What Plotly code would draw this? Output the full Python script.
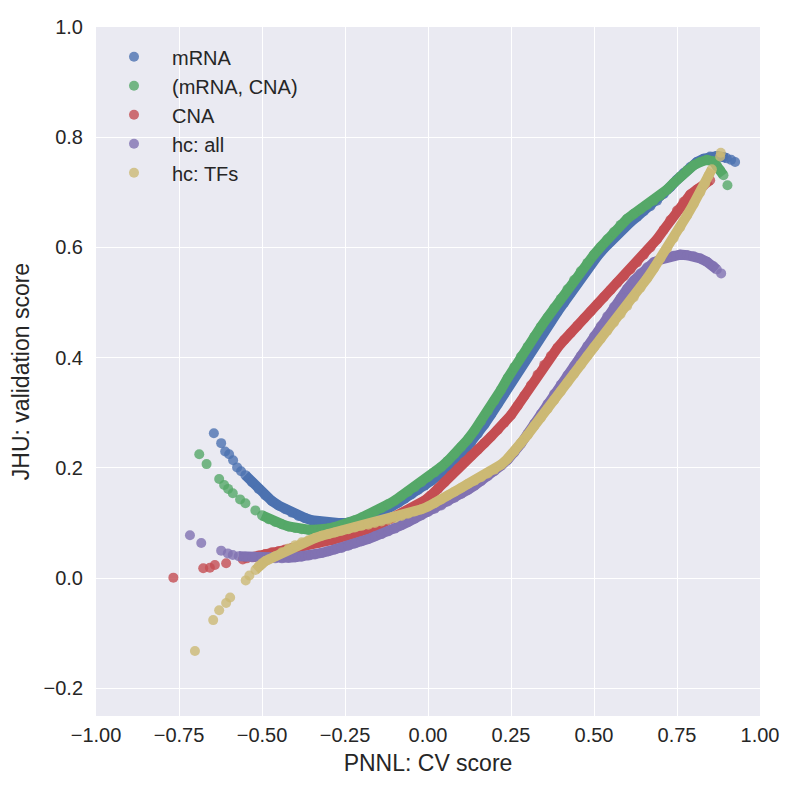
import plotly.graph_objects as go

# ---------------- data ----------------
# mRNA
mrna_sparse_x = [-0.645, -0.623, -0.611, -0.599, -0.587, -0.575, -0.563, 0.913, 0.925]
mrna_sparse_y = [0.263, 0.245, 0.230, 0.225, 0.214, 0.201, 0.194, 0.759, 0.755]
mrna_x = [-0.55, -0.53, -0.51, -0.49, -0.47, -0.45, -0.43, -0.41, -0.39, -0.37, -0.35, -0.33, -0.31,
          -0.29, -0.27, -0.25, -0.23, -0.21, -0.19, -0.17, -0.15, -0.13, -0.11, -0.09, -0.07, -0.05,
          -0.03, -0.01, 0.01, 0.03, 0.05, 0.07, 0.09, 0.11, 0.13, 0.15, 0.17, 0.19, 0.21, 0.23, 0.25,
          0.27, 0.29, 0.31, 0.33, 0.35, 0.37, 0.39, 0.41, 0.43, 0.45, 0.47, 0.49, 0.51, 0.53, 0.55,
          0.57, 0.59, 0.61, 0.63, 0.65, 0.67, 0.69, 0.71, 0.73, 0.75, 0.77, 0.79, 0.81, 0.83, 0.85,
          0.87, 0.89, 0.90]
mrna_y = [0.187, 0.174, 0.162, 0.150, 0.140, 0.132, 0.125, 0.119, 0.113, 0.109, 0.105, 0.103, 0.101,
          0.100, 0.100, 0.100, 0.101, 0.103, 0.107, 0.112, 0.117, 0.123, 0.130, 0.137, 0.144, 0.152,
          0.160, 0.168, 0.177, 0.186, 0.196, 0.207, 0.219, 0.232, 0.246, 0.262, 0.279, 0.297, 0.316,
          0.336, 0.356, 0.376, 0.395, 0.413, 0.431, 0.449, 0.466, 0.483, 0.500, 0.518, 0.536, 0.553,
          0.570, 0.584, 0.598, 0.611, 0.624, 0.636, 0.646, 0.656, 0.666, 0.675, 0.685, 0.697, 0.710,
          0.723, 0.735, 0.746, 0.755, 0.761, 0.765, 0.766, 0.764, 0.762]

# (mRNA, CNA)
mc_sparse_x = [-0.689, -0.667, -0.629, -0.614, -0.602, -0.588, -0.566, -0.550, -0.520, 0.902]
mc_sparse_y = [0.225, 0.207, 0.180, 0.169, 0.162, 0.154, 0.143, 0.136, 0.123, 0.713]
mc_x = [-0.50, -0.48, -0.46, -0.44, -0.42, -0.40, -0.38, -0.36, -0.34, -0.32, -0.30, -0.28, -0.26,
        -0.24, -0.22, -0.20, -0.18, -0.16, -0.14, -0.12, -0.10, -0.08, -0.06, -0.04, -0.02, 0.00,
        0.02, 0.04, 0.06, 0.08, 0.10, 0.12, 0.14, 0.16, 0.18, 0.20, 0.22, 0.24, 0.26, 0.28, 0.30,
        0.32, 0.34, 0.36, 0.38, 0.40, 0.42, 0.44, 0.46, 0.48, 0.50, 0.52, 0.54, 0.56, 0.58, 0.60,
        0.62, 0.64, 0.66, 0.68, 0.70, 0.72, 0.74, 0.76, 0.78, 0.80, 0.82, 0.84, 0.86, 0.87, 0.88, 0.89]
mc_y = [0.114, 0.107, 0.102, 0.098, 0.094, 0.091, 0.089, 0.088, 0.088, 0.088, 0.090, 0.093, 0.096,
        0.100, 0.105, 0.110, 0.115, 0.121, 0.127, 0.134, 0.141, 0.149, 0.157, 0.165, 0.174, 0.183,
        0.192, 0.202, 0.213, 0.225, 0.238, 0.252, 0.268, 0.285, 0.303, 0.322, 0.342, 0.363, 0.383,
        0.402, 0.420, 0.438, 0.456, 0.473, 0.490, 0.507, 0.524, 0.541, 0.557, 0.572, 0.587, 0.601,
        0.615, 0.628, 0.641, 0.652, 0.661, 0.669, 0.677, 0.685, 0.694, 0.705, 0.717, 0.729, 0.740,
        0.749, 0.755, 0.759, 0.756, 0.748, 0.740, 0.731]

# CNA
cna_sparse_x = [-0.767, -0.677, -0.657, -0.642, -0.608, -0.558, -0.546]
cna_sparse_y = [0.001, 0.018, 0.019, 0.024, 0.027, 0.034, 0.036]
cna_x = [-0.53, -0.51, -0.49, -0.47, -0.45, -0.43, -0.41, -0.39, -0.37, -0.35, -0.33, -0.31, -0.29,
         -0.27, -0.25, -0.23, -0.21, -0.19, -0.17, -0.15, -0.13, -0.11, -0.09, -0.07, -0.05, -0.03,
         -0.01, 0.01, 0.03, 0.05, 0.07, 0.09, 0.11, 0.13, 0.15, 0.17, 0.19, 0.21, 0.23, 0.25, 0.27,
         0.29, 0.31, 0.33, 0.35, 0.37, 0.39, 0.41, 0.43, 0.45, 0.47, 0.49, 0.51, 0.53, 0.55, 0.57,
         0.59, 0.61, 0.63, 0.65, 0.67, 0.69, 0.71, 0.73, 0.75, 0.77, 0.79, 0.81, 0.83, 0.85]
cna_y = [0.038, 0.041, 0.044, 0.047, 0.049, 0.052, 0.055, 0.057, 0.059, 0.062, 0.064, 0.067, 0.069,
         0.072, 0.075, 0.078, 0.082, 0.086, 0.091, 0.096, 0.102, 0.108, 0.114, 0.120, 0.126, 0.133,
         0.141, 0.151, 0.162, 0.174, 0.187, 0.199, 0.211, 0.222, 0.233, 0.245, 0.257, 0.269, 0.282,
         0.296, 0.313, 0.331, 0.350, 0.369, 0.387, 0.403, 0.418, 0.432, 0.445, 0.458, 0.471, 0.484,
         0.497, 0.510, 0.523, 0.536, 0.548, 0.560, 0.573, 0.587, 0.600, 0.615, 0.632, 0.650, 0.667,
         0.683, 0.696, 0.705, 0.712, 0.722]

# hc: all
hca_sparse_x = [-0.717, -0.683, -0.623, -0.603, -0.588, 0.883]
hca_sparse_y = [0.078, 0.064, 0.050, 0.045, 0.042, 0.553]
hca_x = [-0.57, -0.55, -0.53, -0.50, -0.48, -0.46, -0.44, -0.42, -0.40, -0.38, -0.36, -0.34, -0.32,
         -0.30, -0.28, -0.26, -0.24, -0.22, -0.20, -0.18, -0.16, -0.14, -0.12, -0.10, -0.08, -0.06,
         -0.04, -0.02, 0.00, 0.02, 0.04, 0.06, 0.08, 0.10, 0.12, 0.14, 0.16, 0.18, 0.20, 0.22, 0.24,
         0.26, 0.28, 0.30, 0.32, 0.34, 0.36, 0.38, 0.40, 0.42, 0.44, 0.46, 0.48, 0.50, 0.52, 0.54,
         0.56, 0.58, 0.60, 0.62, 0.64, 0.66, 0.68, 0.70, 0.72, 0.74, 0.76, 0.78, 0.80, 0.82, 0.84,
         0.86, 0.87]
hca_y = [0.040, 0.039, 0.038, 0.037, 0.037, 0.036, 0.036, 0.037, 0.038, 0.039, 0.041, 0.043, 0.046,
         0.049, 0.052, 0.055, 0.059, 0.063, 0.067, 0.071, 0.076, 0.080, 0.085, 0.090, 0.096, 0.102,
         0.108, 0.114, 0.120, 0.126, 0.132, 0.139, 0.146, 0.153, 0.160, 0.168, 0.176, 0.185, 0.194,
         0.204, 0.215, 0.228, 0.244, 0.262, 0.280, 0.298, 0.316, 0.334, 0.351, 0.368, 0.385, 0.403,
         0.421, 0.439, 0.457, 0.475, 0.492, 0.508, 0.525, 0.540, 0.553, 0.564, 0.573, 0.578, 0.582,
         0.585, 0.587, 0.586, 0.584, 0.580, 0.574, 0.566, 0.560]

# hc: TFs
hct_sparse_x = [-0.702, -0.647, -0.629, -0.608, -0.596, -0.549, -0.538, 0.880, 0.882]
hct_sparse_y = [-0.132, -0.076, -0.058, -0.045, -0.035, -0.004, 0.005, 0.765, 0.772]
hct_x = [-0.52, -0.51, -0.50, -0.49, -0.48, -0.46, -0.44, -0.42, -0.40, -0.38, -0.36, -0.34, -0.32,
         -0.30, -0.28, -0.26, -0.24, -0.22, -0.20, -0.18, -0.16, -0.14, -0.12, -0.10, -0.08, -0.06,
         -0.04, -0.02, 0.00, 0.02, 0.04, 0.06, 0.08, 0.10, 0.12, 0.14, 0.16, 0.18, 0.20, 0.22, 0.24,
         0.26, 0.28, 0.30, 0.32, 0.34, 0.36, 0.38, 0.40, 0.42, 0.44, 0.46, 0.48, 0.50, 0.52, 0.54,
         0.56, 0.58, 0.60, 0.62, 0.64, 0.66, 0.68, 0.70, 0.72, 0.74, 0.76, 0.78, 0.80, 0.82, 0.835,
         0.845, 0.855]
hct_y = [0.015, 0.022, 0.027, 0.031, 0.034, 0.040, 0.047, 0.054, 0.060, 0.065, 0.069, 0.073, 0.077,
         0.080, 0.083, 0.086, 0.089, 0.092, 0.095, 0.097, 0.100, 0.103, 0.106, 0.109, 0.113, 0.117,
         0.121, 0.125, 0.130, 0.136, 0.143, 0.150, 0.157, 0.164, 0.171, 0.177, 0.183, 0.190, 0.197,
         0.206, 0.217, 0.230, 0.245, 0.260, 0.276, 0.291, 0.307, 0.323, 0.339, 0.355, 0.371, 0.387,
         0.403, 0.419, 0.434, 0.449, 0.464, 0.479, 0.494, 0.510, 0.527, 0.544, 0.562, 0.580, 0.598,
         0.617, 0.637, 0.658, 0.679, 0.700, 0.716, 0.730, 0.742]

series_names = ["mRNA", "(mRNA, CNA)", "CNA", "hc: all", "hc: TFs"]
series_colors = ["76,114,176", "85,168,104", "196,78,82", "129,114,178", "204,185,116"]

x_ticks = [-1.0, -0.75, -0.5, -0.25, 0.0, 0.25, 0.5, 0.75, 1.0]
y_ticks = [-0.2, 0.0, 0.2, 0.4, 0.6, 0.8, 1.0]

# ---------------- figure ----------------
dense = [(mrna_x, mrna_y), (mc_x, mc_y), (cna_x, cna_y), (hca_x, hca_y), (hct_x, hct_y)]
sparse = [(mrna_sparse_x, mrna_sparse_y), (mc_sparse_x, mc_sparse_y), (cna_sparse_x, cna_sparse_y),
          (hca_sparse_x, hca_sparse_y), (hct_sparse_x, hct_sparse_y)]

fig = go.Figure()
for name, rgb, (dx, dy), (sx, sy) in zip(series_names, series_colors, dense, sparse):
    fig.add_trace(go.Scatter(x=dx, y=dy, mode="lines", line=dict(color=f"rgb({rgb})", width=10),
                             showlegend=False, hoverinfo="skip", legendgroup=name))
    fig.add_trace(go.Scatter(x=dx + sx, y=dy + sy, mode="markers", name=name, legendgroup=name,
                             marker=dict(size=10, color=f"rgba({rgb},0.8)", line=dict(width=0))))

axis_common = dict(gridcolor="white", gridwidth=1.3, zeroline=False, showline=False,
                   tickcolor="rgba(0,0,0,0)", tickfont=dict(size=20, color="#262626"))

fig.update_layout(
    width=800, height=800,
    margin=dict(l=96, r=40, t=27, b=84),
    paper_bgcolor="white", plot_bgcolor="#EAEAF2",
    font=dict(family="Liberation Sans, Arial, sans-serif", color="#262626", size=20),
    legend=dict(x=0, y=0.985, xanchor="left", yanchor="top", bgcolor="rgba(0,0,0,0)",
                font=dict(size=20), itemwidth=66, traceorder="grouped", tracegroupgap=0),
    xaxis=dict(range=[-1, 1], tickvals=x_ticks, tickformat=".2f", ticks="outside", ticklen=1,
               title=dict(text="PNNL: CV score", font=dict(size=23), standoff=9), **axis_common),
    yaxis=dict(range=[-0.25, 1.0], tickvals=y_ticks, tickformat=".1f", ticks="outside", ticklen=8,
               title=dict(text="JHU: validation score", font=dict(size=23), standoff=7), **axis_common),
)

fig.write_html("out.html", post_script="document.body.style.margin='0';",
               config={"displayModeBar": False})
